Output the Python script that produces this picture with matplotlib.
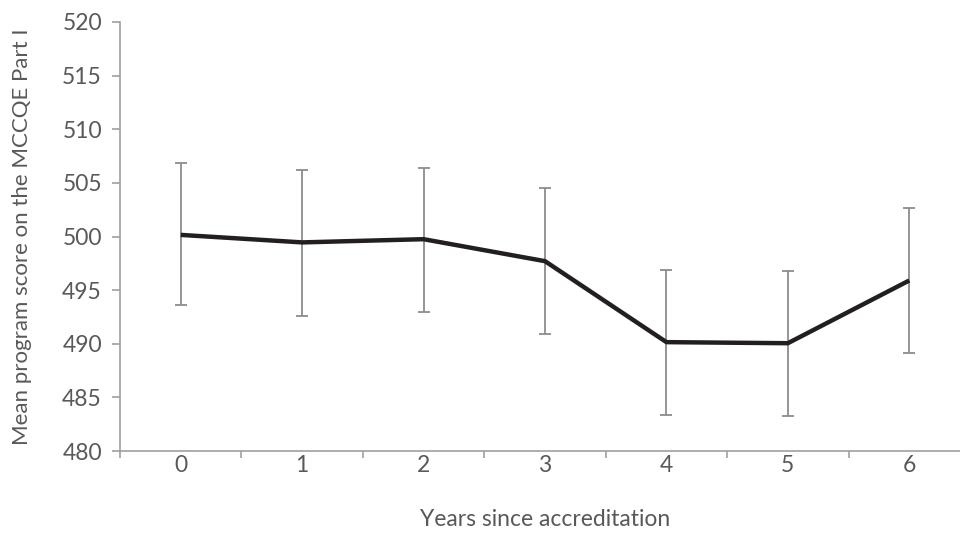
import matplotlib
matplotlib.use("Agg")
import matplotlib.pyplot as plt

years = [0, 1, 2, 3, 4, 5, 6]
mean_score = [500.15, 499.45, 499.75, 497.7, 490.15, 490.05, 495.9]
upper = [506.85, 506.2, 506.4, 504.5, 496.9, 496.8, 502.7]
lower = [493.6, 492.6, 493.0, 490.9, 483.4, 483.3, 489.1]
y_ticks = [480, 485, 490, 495, 500, 505, 510, 515, 520]

plt.rcParams['font.family'] = ['Lato', 'DejaVu Sans']
txt = '#595959'
axc = '#A0A0A0'

fig = plt.figure(figsize=(9.6, 5.33), dpi=100)
ax = fig.add_axes([120/960, 1-451/533, 850/960, (451-22)/533])

yerr = [[m - l for m, l in zip(mean_score, lower)], [u - m for u, m in zip(upper, mean_score)]]
ax.errorbar(years, mean_score, yerr=yerr, fmt='none', ecolor='#8C8C8C', elinewidth=1.3, capsize=4.5, capthick=1.3, zorder=2)
ax.plot(years, mean_score, color='#231F20', lw=3.2, solid_capstyle='butt', zorder=3)

ax.set_xlim(-0.5, 6.5)
ax.set_ylim(480, 520)
ax.set_yticks(y_ticks)
ax.set_xticks(years)
ax.set_xticks([i - 0.5 for i in range(8)], minor=True)
ax.tick_params(axis='x', which='major', length=0, pad=3, labelsize=16.5, labelcolor=txt)
ax.tick_params(axis='x', which='minor', length=5, width=1.2, color=axc, direction='out')
ax.tick_params(axis='y', length=6, width=1.2, color=axc, direction='out', pad=7, labelsize=16.5, labelcolor=txt)

for s in ['top', 'right']:
    ax.spines[s].set_visible(False)
for s in ['left', 'bottom']:
    ax.spines[s].set_color(axc)
    ax.spines[s].set_linewidth(1.2)

ax.set_xlabel('Years since accreditation', fontsize=16.5, color=txt, labelpad=24)
ax.set_ylabel('Mean program score on the MCCQE Part I', fontsize=16, color=txt, labelpad=22)

fig.savefig('out.png', dpi=100)
